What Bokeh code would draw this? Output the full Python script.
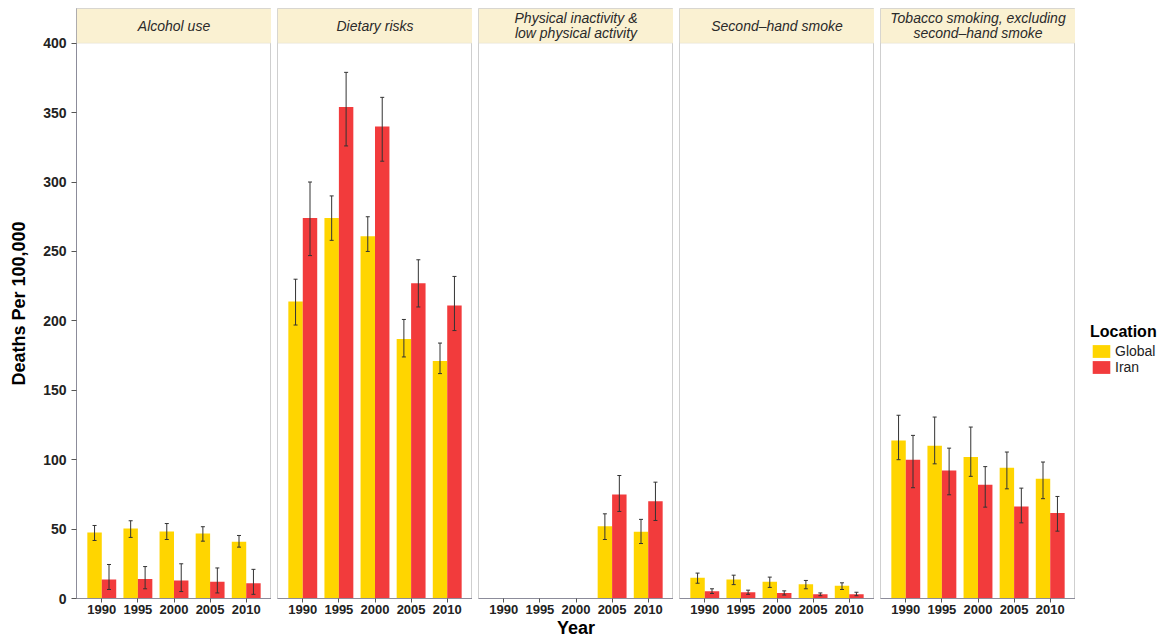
import numpy as np
from bokeh.plotting import figure
from bokeh.layouts import row
from bokeh.models import (ColumnDataSource, FactorRange, Range1d, BoxAnnotation,
                          Label, Whisker, TeeHead, FixedTicker, Legend, LegendItem)
from bokeh.transform import dodge
from bokeh.embed import file_html
from bokeh.resources import INLINE

years = ["1990", "1995", "2000", "2005", "2010"]
panels = ["Alcohol use", "Dietary risks",
          "Physical inactivity &\nlow physical activity",
          "Second\u2013hand smoke",
          "Tobacco smoking, excluding\nsecond\u2013hand smoke"]
locations = ["Global", "Iran"]
nan = np.nan

global_val = [
    [47.5, 50.5, 48.3, 46.8, 40.8],
    [214, 274, 261, 187, 171],
    [nan, nan, nan, 52, 48],
    [14.9, 13.7, 12.0, 10.3, 9.1],
    [113.9, 110, 102, 94.2, 86.2],
]
global_lo = [
    [41.8, 44.0, 42.5, 41.3, 37.0],
    [197, 258, 250, 174, 162],
    [nan, nan, nan, 42.5, 39.6],
    [11.0, 10.0, 8.0, 7.0, 6.5],
    [100, 97, 88, 79, 71.9],
]
global_hi = [
    [52.6, 56.0, 54.0, 51.7, 45.4],
    [230, 290, 275, 201, 184],
    [nan, nan, nan, 61, 57],
    [18.3, 16.8, 15.4, 13.0, 11.3],
    [132, 130.7, 123.5, 105.5, 98.3],
]
iran_val = [
    [13.7, 14.0, 13.0, 12.0, 11.0],
    [274, 354, 340, 227, 211],
    [nan, nan, nan, 75, 70],
    [5.3, 4.5, 4.0, 3.0, 3.0],
    [100, 92.2, 81.9, 66.3, 61.5],
]
iran_lo = [
    [6.5, 7.0, 5.0, 4.0, 3.0],
    [247, 326, 315, 210, 193],
    [nan, nan, nan, 62.7, 56.2],
    [3.6, 3.0, 2.5, 2.0, 2.0],
    [79.8, 74.7, 65.8, 54.5, 48.5],
]
iran_hi = [
    [24.5, 23.0, 25.0, 22.0, 21.0],
    [300, 379, 361, 244, 232],
    [nan, nan, nan, 88.6, 83.8],
    [7.0, 6.0, 5.5, 4.0, 4.5],
    [117.5, 108.3, 95.0, 79.5, 73.5],
]
y_ticks = [0, 50, 100, 150, 200, 250, 300, 350, 400]

YELLOW = "#FFD500"
RED = "#F23B3C"
STRIP = "#FAF1D2"
BORDER = "#CFCFCF"
FONT = "Liberation Sans"

FRAME_W = 195
FRAME_H = 590
TOP = 8
BOTTOM = 44
HEIGHT = TOP + FRAME_H + BOTTOM
y_range = Range1d(0, 425)

figs = []
for i, name in enumerate(panels):
    left = 76 if i == 0 else 6
    p = figure(x_range=FactorRange(factors=years, range_padding=0.2,
                                   range_padding_units="absolute"),
               y_range=y_range,
               width=left + FRAME_W, height=HEIGHT,
               output_backend="svg", toolbar_location=None,
               min_border_left=left, min_border_right=0,
               min_border_top=TOP, min_border_bottom=BOTTOM,
               y_axis_location="left" if i == 0 else None)
    p.xgrid.visible = False
    p.ygrid.visible = False
    p.outline_line_color = BORDER
    p.outline_line_width = 1
    p.background_fill_color = "white"
    p.border_fill_color = "white"

    src = ColumnDataSource(dict(year=years,
                                g=np.array(global_val[i], dtype=float),
                                glo=np.array(global_lo[i], dtype=float),
                                ghi=np.array(global_hi[i], dtype=float),
                                r=np.array(iran_val[i], dtype=float),
                                rlo=np.array(iran_lo[i], dtype=float),
                                rhi=np.array(iran_hi[i], dtype=float)))
    gx = dodge("year", -0.2, range=p.x_range)
    rx = dodge("year", 0.2, range=p.x_range)
    p.vbar(x=gx, top="g", bottom=0, width=0.4, source=src,
           fill_color=YELLOW, line_color=None)
    p.vbar(x=rx, top="r", bottom=0, width=0.4, source=src,
           fill_color=RED, line_color=None)
    for base, lo, hi in ((gx, "glo", "ghi"), (rx, "rlo", "rhi")):
        w = Whisker(base=base, lower=lo, upper=hi, source=src,
                    line_color="#333333", line_width=1, level="overlay",
                    upper_head=TeeHead(size=4, line_color="#333333", line_width=1),
                    lower_head=TeeHead(size=4, line_color="#333333", line_width=1))
        p.add_layout(w)

    # facet strip
    p.add_layout(BoxAnnotation(bottom=400, fill_color=STRIP, fill_alpha=1,
                               line_color=BORDER, line_width=1))
    p.add_layout(Label(x=2.5, y=412.5, text=name, text_align="center",
                       text_baseline="middle", text_font=FONT,
                       text_font_style="italic", text_font_size="14px",
                       text_color="#2a2a2a", text_line_height=0.95))

    xa = p.xaxis[0]
    xa.axis_line_color = "#8C8C9A"
    xa.major_tick_line_color = "#555555"
    xa.major_tick_out = 4
    xa.major_tick_in = 0
    xa.minor_tick_line_color = None
    xa.major_label_text_font = FONT
    xa.major_label_text_font_style = "bold"
    xa.major_label_text_font_size = "13px"
    xa.major_label_text_color = "#222222"
    xa.major_label_standoff = 2
    if i == 2:
        xa.axis_label = "Year"
        xa.axis_label_text_font = FONT
        xa.axis_label_text_font_style = "bold"
        xa.axis_label_text_font_size = "18px"
        xa.axis_label_text_color = "black"
        xa.axis_label_standoff = 1

    if i == 0:
        ya = p.yaxis[0]
        ya.ticker = FixedTicker(ticks=y_ticks)
        ya.axis_line_color = "#8C8C9A"
        ya.major_tick_line_color = "#555555"
        ya.major_tick_out = 5
        ya.major_tick_in = 0
        ya.minor_tick_line_color = None
        ya.major_label_text_font = FONT
        ya.major_label_text_font_style = "bold"
        ya.major_label_text_font_size = "14px"
        ya.major_label_text_color = "#222222"
        ya.axis_label = "Deaths Per 100,000"
        ya.axis_label_text_font = FONT
        ya.axis_label_text_font_style = "bold"
        ya.axis_label_text_font_size = "18px"
        ya.axis_label_text_color = "black"
        ya.axis_label_standoff = 11
    figs.append(p)

# legend panel
lp = figure(width=100, height=HEIGHT, x_range=Range1d(0, 1), y_range=Range1d(0, 1),
            output_backend="svg", toolbar_location=None,
            min_border=0, x_axis_location=None, y_axis_location=None)
lp.outline_line_color = None
lp.xgrid.visible = False
lp.ygrid.visible = False
hidden = ColumnDataSource(dict(x=[5.0], top=[5.0]))
lg = lp.vbar(x="x", top="top", bottom=4.0, width=0.1, source=hidden,
             fill_color=YELLOW, line_color=None)
lr = lp.vbar(x="x", top="top", bottom=4.0, width=0.1, source=hidden,
             fill_color=RED, line_color=None)
legend = Legend(items=[LegendItem(label=locations[0], renderers=[lg]),
                       LegendItem(label=locations[1], renderers=[lr])],
                title="Location", location=(15, HEIGHT - 419),
                title_text_font=FONT, title_text_font_style="bold",
                title_text_font_size="16px", title_text_color="black",
                title_standoff=2,
                label_text_font=FONT, label_text_font_size="14px",
                label_text_color="#222222", glyph_width=22, glyph_height=16,
                label_height=16, spacing=0, padding=2, label_standoff=3,
                border_line_color=None, background_fill_alpha=0)
lp.add_layout(legend)

layout = row(*figs, lp, spacing=0)
open("out.html", "w").write(file_html(layout, INLINE))
